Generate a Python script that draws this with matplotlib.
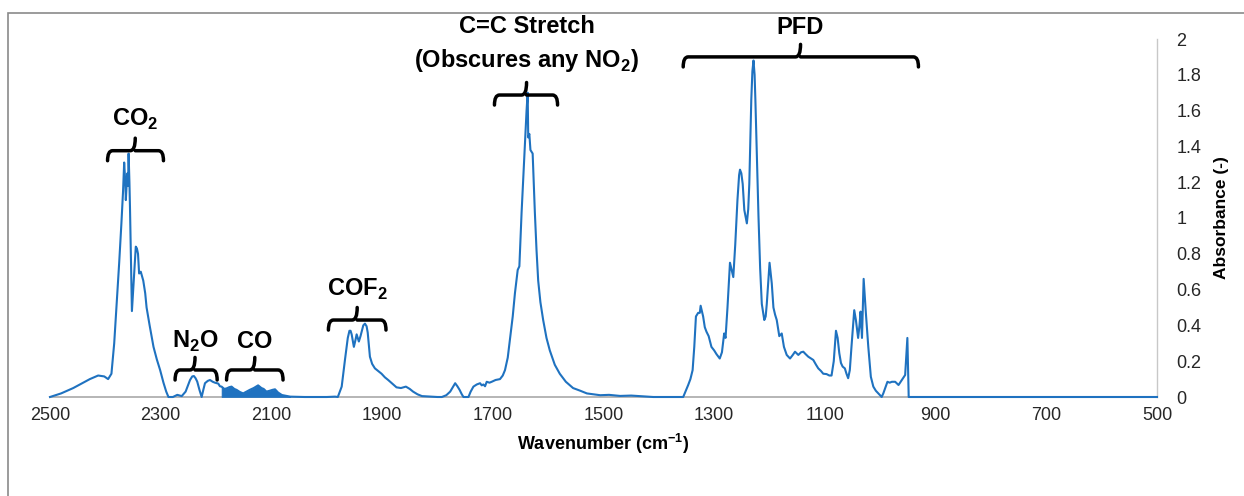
import matplotlib
matplotlib.use("Agg")
import matplotlib.pyplot as plt
import numpy as np
from matplotlib.path import Path
from matplotlib.patches import PathPatch, Rectangle

plt.rcParams['font.family'] = ['Liberation Sans', 'DejaVu Sans']
plt.rcParams['mathtext.fontset'] = 'custom'
plt.rcParams['mathtext.rm'] = 'Liberation Sans'
plt.rcParams['mathtext.bf'] = 'Liberation Sans:bold'

# ---------------- data ----------------
wavenumber = [
    2500, 2480, 2458, 2440, 2428, 2413, 2402, 2395, 2389, 2384, 2380, 2375, 2371, 2368, 2366,
    2364, 2363, 2361, 2360, 2359, 2358, 2356.5, 2355.5, 2354, 2352, 2350, 2348, 2345, 2343,
    2341, 2339, 2336, 2331.5, 2328, 2325.5, 2320, 2313, 2307, 2301, 2295, 2290, 2286,
    2278, 2270, 2262, 2255, 2250, 2247, 2243, 2240, 2237, 2234, 2230, 2226, 2223, 2220,
    2215, 2211, 2206, 2202, 2196, 2193, 2190, 2185, 2181, 2176, 2172, 2167, 2163, 2157,
    2151, 2145, 2139, 2132, 2124, 2118, 2114, 2109, 2103, 2098, 2093.5, 2088, 2081, 2073,
    2066, 2040, 2000, 1985, 1980, 1973, 1967, 1962, 1959, 1957, 1955, 1951, 1948, 1946,
    1942, 1939, 1937, 1934, 1931, 1928, 1926, 1922, 1918, 1913, 1907, 1901, 1895, 1889,
    1880, 1874, 1866, 1857, 1850, 1844, 1836, 1828, 1800, 1792, 1784, 1777, 1768, 1764,
    1760, 1756, 1753, 1744, 1740, 1735, 1729, 1723, 1720, 1717, 1714, 1711, 1706, 1702,
    1695, 1687, 1682, 1678, 1673, 1669, 1664, 1660, 1655, 1652, 1648, 1645, 1642, 1639,
    1637, 1636, 1634, 1632, 1628, 1626, 1624, 1621, 1618, 1614, 1609, 1603, 1597, 1588,
    1579, 1568, 1555, 1542, 1530, 1518, 1506, 1490, 1470, 1450, 1430, 1410, 1370, 1356,
    1352, 1347, 1343, 1339, 1336, 1333, 1329, 1326, 1324.5, 1320, 1317, 1314, 1310, 1305,
    1300, 1296, 1290, 1286, 1282, 1279.5, 1276, 1271.5, 1265.5, 1262, 1258, 1255, 1253.4,
    1251, 1248.5, 1245.6, 1241, 1238.5, 1236.6, 1234.5, 1233, 1231, 1229, 1227, 1225.6,
    1223, 1220, 1217, 1214, 1209.5, 1207, 1205, 1202, 1200, 1196, 1193, 1190, 1187,
    1182.4, 1178, 1174, 1169, 1163, 1158, 1154, 1148, 1143, 1139, 1135, 1130, 1125, 1121,
    1116, 1112, 1107, 1103, 1097, 1092, 1088, 1084, 1080, 1077, 1074, 1071, 1068, 1064,
    1061, 1058, 1055, 1052, 1047, 1044, 1040, 1037.5, 1035.6, 1033, 1030, 1026, 1021.6,
    1017, 1012.5, 1008, 1003.5, 997.4, 994.5, 990, 987, 983, 979, 973, 967, 961, 955, 951,
    948.6, 900, 500,
]
absorbance = [
    0.0, 0.02, 0.05, 0.08, 0.10, 0.12, 0.115, 0.10, 0.13, 0.30, 0.50, 0.75, 0.97, 1.15, 1.31,
    1.20, 1.10, 1.22, 1.25, 1.18, 1.36, 1.20, 1.06, 0.80, 0.48, 0.58, 0.69, 0.84, 0.83,
    0.80, 0.69, 0.70, 0.65, 0.58, 0.50, 0.40, 0.28, 0.21, 0.15, 0.08, 0.03, 0.0,
    0.0, 0.012, 0.005, 0.03, 0.07, 0.095, 0.115, 0.117, 0.105, 0.086, 0.04, 0.0, 0.04, 0.077,
    0.09, 0.095, 0.085, 0.08, 0.075, 0.06, 0.058, 0.045, 0.048, 0.055, 0.058, 0.045, 0.04, 0.028,
    0.02, 0.03, 0.04, 0.05, 0.065, 0.05, 0.045, 0.03, 0.035, 0.04, 0.043, 0.025, 0.011, 0.006,
    0.002, 0.0, 0.0, 0.002, 0.0, 0.058, 0.21, 0.33, 0.37, 0.37, 0.35, 0.28, 0.32, 0.35,
    0.31, 0.34, 0.365, 0.40, 0.41, 0.395, 0.36, 0.225, 0.185, 0.16, 0.145, 0.13, 0.11, 0.095,
    0.07, 0.054, 0.05, 0.058, 0.045, 0.03, 0.015, 0.005, 0.0, 0.0, 0.01, 0.03, 0.077, 0.06,
    0.04, 0.015, 0.0, 0.0, 0.03, 0.058, 0.07, 0.077, 0.065, 0.07, 0.06, 0.085, 0.08, 0.085,
    0.095, 0.10, 0.12, 0.15, 0.22, 0.32, 0.45, 0.58, 0.71, 0.73, 1.03, 1.22, 1.40, 1.60,
    1.70, 1.45, 1.47, 1.38, 1.36, 1.20, 1.03, 0.82, 0.65, 0.53, 0.43, 0.33, 0.26, 0.18,
    0.13, 0.085, 0.05, 0.035, 0.02, 0.015, 0.01, 0.012, 0.006, 0.008, 0.004, 0.0, 0.0, 0.0,
    0.03, 0.067, 0.10, 0.15, 0.28, 0.45, 0.47, 0.47, 0.51, 0.45, 0.39, 0.365, 0.34, 0.28,
    0.26, 0.24, 0.215, 0.25, 0.355, 0.33, 0.50, 0.75, 0.67, 0.85, 1.10, 1.24, 1.27,
    1.25, 1.19, 1.045, 0.97, 1.05, 1.19, 1.45, 1.66, 1.82, 1.88, 1.80, 1.66,
    1.35, 1.01, 0.72, 0.52, 0.43, 0.45, 0.52, 0.66, 0.75, 0.635, 0.50, 0.46, 0.43,
    0.34, 0.355, 0.28, 0.235, 0.215, 0.235, 0.253, 0.235, 0.25, 0.253, 0.24, 0.225, 0.215, 0.207,
    0.18, 0.16, 0.145, 0.13, 0.128, 0.12, 0.12, 0.2, 0.37, 0.33, 0.245, 0.19, 0.17, 0.16,
    0.13, 0.105, 0.15, 0.28, 0.485, 0.43, 0.33, 0.40, 0.477, 0.33, 0.66, 0.47, 0.28,
    0.113, 0.058, 0.035, 0.02, 0.0, 0.02, 0.06, 0.085, 0.08, 0.085, 0.085, 0.067, 0.095, 0.123, 0.33,
    0.0, 0.0, 0.0,
]
# CO rotational band region (dense lines drawn as a filled band)
co_band = (2192, 2062)

x_ticks = [2500, 2300, 2100, 1900, 1700, 1500, 1300, 1100, 900, 700, 500]
y_ticks = [0, 0.2, 0.4, 0.6, 0.8, 1, 1.2, 1.4, 1.6, 1.8, 2]
y_tick_labels = ["0", "0.2", "0.4", "0.6", "0.8", "1", "1.2", "1.4", "1.6", "1.8", "2"]

# annotations: label, bracket left, right, middle (cm-1), bracket height, text height
annotations = [
    ("CO$_\\mathbf{2}$", 2396, 2295, 2346, 1.376, 1.55),
    ("N$_\\mathbf{2}$O", 2274, 2198, 2238, 0.151, 0.31),
    ("CO", 2181, 2079, 2130, 0.151, 0.31),
    ("COF$_\\mathbf{2}$", 1997, 1893, 1945, 0.43, 0.60),
    ("C=C Stretch\n(Obscures any NO$_\\mathbf{2}$)", 1697, 1583, 1639, 1.687, 1.97),
    ("PFD", 1356, 931, 1144, 1.90, 2.065),
]

# ---------------- figure ----------------
W, H = 1244, 496
fig = plt.figure(figsize=(W / 100, H / 100), dpi=100)
ax = fig.add_axes([50 / W, (H - 397) / H, 1107 / W, 358 / H])

line_color = '#1F72C0'
wn = np.array(wavenumber, dtype=float)
ab = np.array(absorbance, dtype=float)
ax.plot(wn, ab, color=line_color, lw=1.5, zorder=3, clip_on=False)
mask = (wn <= co_band[0]) & (wn >= co_band[1])
ax.fill_between(wn, 0, ab, where=mask, color=line_color, lw=0.5, zorder=3)

ax.set_xlim(2500, 500)
ax.set_ylim(0, 2)
ax.set_xticks(x_ticks)
ax.set_xticklabels([str(t) for t in x_ticks])
ax.set_yticks(y_ticks)
ax.set_yticklabels(y_tick_labels)
ax.yaxis.tick_right()
ax.yaxis.set_label_position('right')
ax.tick_params(axis='both', length=0, labelsize=13, colors='#262626')
ax.tick_params(axis='y', pad=14)
ax.tick_params(axis='x', pad=7)

for s in ['top', 'left']:
    ax.spines[s].set_visible(False)
ax.spines['bottom'].set_color('#b0b0b0')
ax.spines['bottom'].set_linewidth(1.3)
ax.spines['right'].set_color('#c8c8c8')
ax.spines['right'].set_linewidth(1.0)

ax.set_xlabel("Wavenumber (cm$^{\\mathbf{-1}}$)", fontsize=13, fontweight='bold', labelpad=6)
ax.set_ylabel("Absorbance (-)", fontsize=12.5, fontweight='bold', labelpad=9)


def bracket(ax, xl, xr, xm, y, down=0.056, up=0.07, r=9):
    verts = [(xl, y - down), (xl, y), (xl - r, y),
             (xm + r, y), (xm, y), (xm, y + up),
             (xm, y), (xm - r, y),
             (xr + r, y), (xr, y), (xr, y - down)]
    codes = [Path.MOVETO, Path.CURVE3, Path.CURVE3,
             Path.LINETO, Path.CURVE3, Path.CURVE3,
             Path.MOVETO, Path.LINETO,
             Path.LINETO, Path.CURVE3, Path.CURVE3]
    p = PathPatch(Path(verts, codes), fill=False, lw=2.5, color='black',
                  capstyle='round', joinstyle='round', clip_on=False, zorder=4)
    ax.add_patch(p)


for label, xl, xr, xm, yb, yt in annotations:
    bracket(ax, xl, xr, xm, yb)
    ax.text(xm, yt, label, ha='center', va='center', fontsize=17, fontweight='bold',
            color='black', clip_on=False, linespacing=1.45)

# outer chart border
fig.add_artist(Rectangle((8 / W, -0.05), 1.1, (H - 13) / H + 0.05, transform=fig.transFigure,
                         fill=False, edgecolor='#8a8a8a', lw=1.2))

fig.savefig('out.png', dpi=100)
